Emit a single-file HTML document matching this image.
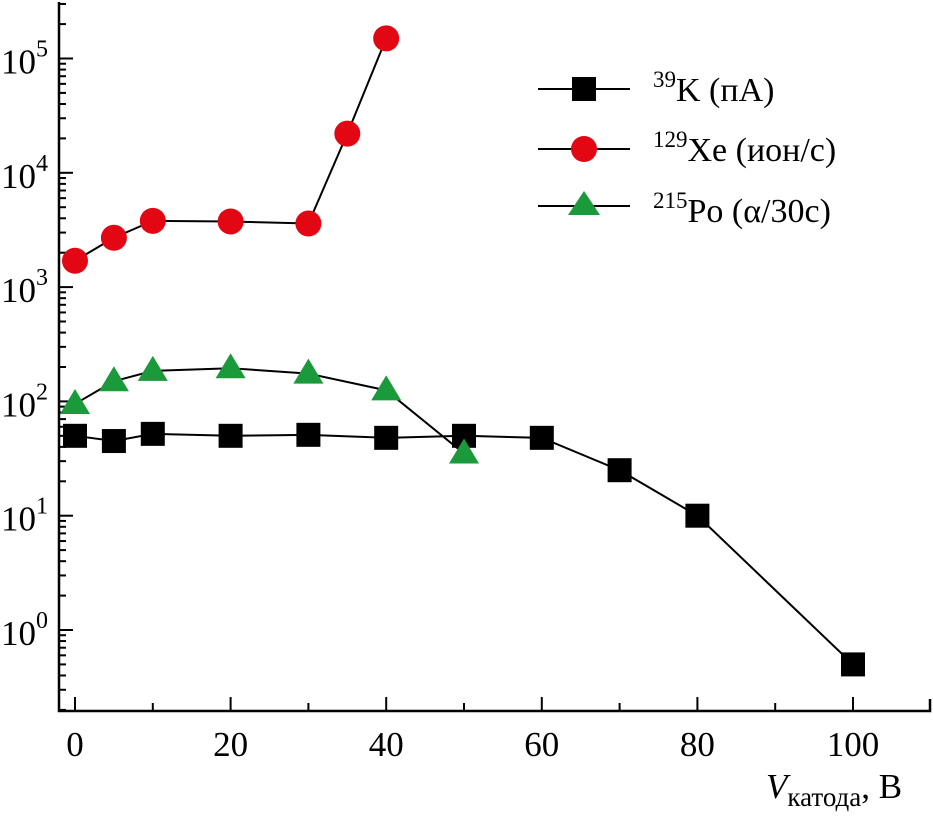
<!DOCTYPE html>
<html><head><meta charset="utf-8"><style>
body{margin:0;background:#fff}
svg{display:block}
text{font-family:"Liberation Serif","DejaVu Serif",serif}
</style></head><body>
<svg width="933" height="821" viewBox="0 0 933 821" id="c" font-family="Liberation Serif, DejaVu Serif, serif">
<g id="axes"></g><g id="series"></g>
<g font-size="34">
 <g><line x1="538" y1="89" x2="630" y2="89" stroke="#000" stroke-width="2"/><rect x="572" y="77" width="24" height="24" fill="#000"/>
  <text x="653" y="101"><tspan font-size="23" dy="-14">39</tspan><tspan dy="14">K (пА)</tspan></text></g>
 <g><line x1="538" y1="149" x2="630" y2="149" stroke="#000" stroke-width="2"/><circle cx="584" cy="149" r="13" fill="#e30613"/>
  <text x="653" y="161"><tspan font-size="23" dy="-14">129</tspan><tspan dy="14">Xe (ион/с)</tspan></text></g>
 <g><line x1="538" y1="206" x2="630" y2="206" stroke="#000" stroke-width="2"/><polygon points="584,191 600,215 568,215" fill="#1a9a3a"/>
  <text x="653" y="222"><tspan font-size="23" dy="-14">215</tspan><tspan dy="14">Po (α/30с)</tspan></text></g>
</g>
<text x="766" y="798" font-size="35"><tspan font-style="italic">V</tspan><tspan font-size="27" dy="8">катода</tspan><tspan dy="-8">, В</tspan></text>
</svg>
<script>
const kX=[0,5,10,20,30,40,50,60,70,80,100];
const kY=[50,45,52,50,51,48,50,48,25,10,0.5];
const xeX=[0,5,10,20,30,35,40];
const xeY=[1700,2700,3800,3750,3600,22000,150000];
const poX=[0,5,10,20,30,40,50];
const poY=[95,150,185,195,175,125,35];
const xTicks=[0,20,40,60,80,100];
const yDecades=[0,1,2,3,4,5];
const NS="http://www.w3.org/2000/svg";
const X0=59,X1=930,YB=711,YT=2;
const sx=v=>75+v*7.78;
const sy=v=>630-114.3*Math.log10(v);
function mk(t,a,p){const e=document.createElementNS(NS,t);for(const k in a)e.setAttribute(k,a[k]);(p||document.getElementById('axes')).appendChild(e);return e;}
const l1=mk('path',{d:`M${X0},${YT}V${YB}H${X1}V${YB-12}`,fill:'none',stroke:'#000','stroke-width':2.5});


for(let v=0;v<=100;v+=10){const maj=v%20===0;const t=mk('line',{x1:sx(v),x2:sx(v),y1:YB,y2:YB-(maj?14:8),stroke:'#000','stroke-width':2});

}
xTicks.forEach(v=>{const t=mk('text',{x:sx(v),y:756,'font-size':35,'text-anchor':'middle'});t.textContent=v;

});
for(let d=-1;d<=5;d++)for(let m=1;m<10;m++){const y=sy(m*Math.pow(10,d));if(y<YT||y>YB)continue;
const t=mk('line',{x1:X0,x2:X0+(m===1?14:7),y1:y,y2:y,stroke:'#000','stroke-width':2});

}
yDecades.forEach(d=>{const y=sy(Math.pow(10,d));const t=mk('text',{x:1,y:y+15,'font-size':35});
t.innerHTML='10<tspan font-size="24" dy="-17">'+d+'</tspan>';

});
const sg=document.getElementById('series');
function series(xs,ys,name,fn){const g=mk('g',{},sg);


mk('polyline',{points:xs.map((x,i)=>sx(x)+','+sy(ys[i])).join(' '),fill:'none',stroke:'#000','stroke-width':2},g);
xs.forEach((x,i)=>{const m=fn(sx(x),sy(ys[i]),g);

});}
series(kX,kY,'series-k',(x,y,g)=>mk('rect',{x:x-12,y:y-12,width:24,height:24,fill:'#000'},g));
series(xeX,xeY,'series-xe',(x,y,g)=>mk('circle',{cx:x,cy:y,r:13,fill:'#e30613'},g));
series(poX,poY,'series-po',(x,y,g)=>mk('polygon',{points:`${x},${y-15} ${x+15},${y+10} ${x-15},${y+10}`,fill:'#1a9a3a'},g));
</script>
</body></html>
